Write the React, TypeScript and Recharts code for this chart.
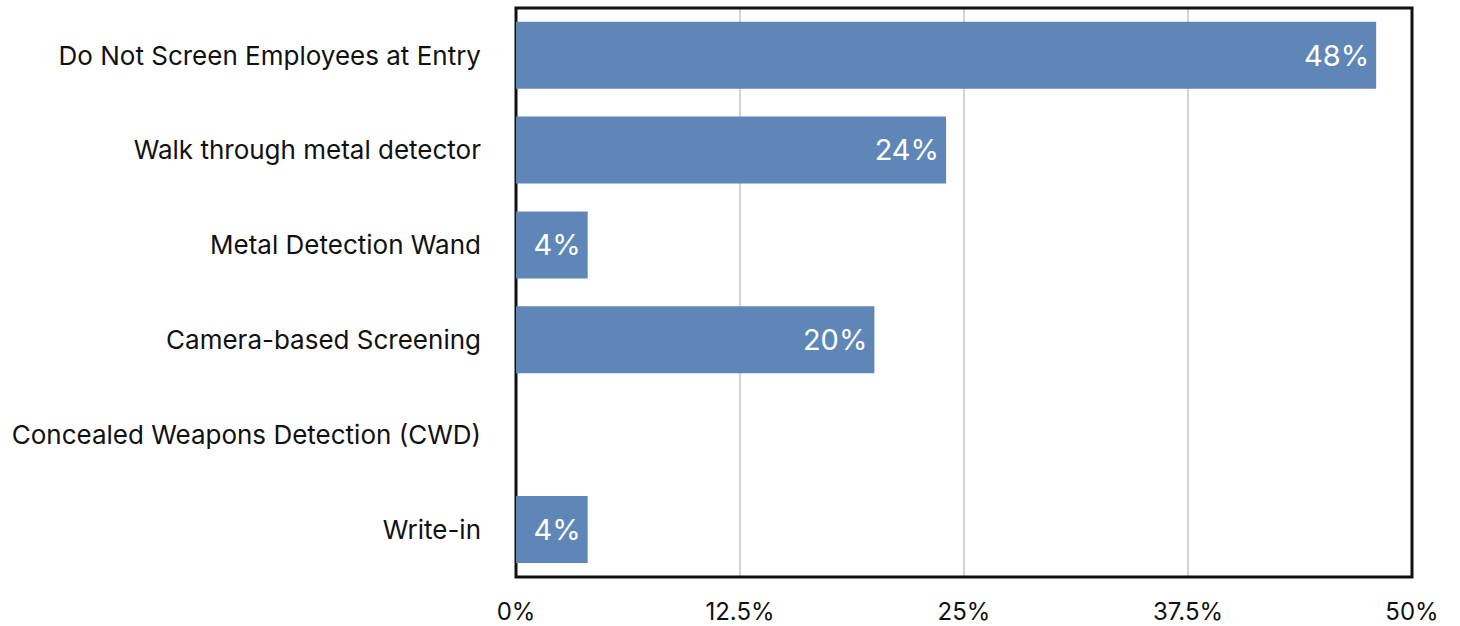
import { BarChart, Bar, XAxis, YAxis, CartesianGrid, ReferenceArea, LabelList } from 'recharts';

const categories = [
  'Do Not Screen Employees at Entry',
  'Walk through metal detector',
  'Metal Detection Wand',
  'Camera-based Screening',
  'Concealed Weapons Detection (CWD)',
  'Write-in',
];
const shares = [48, 24, 4, 20, 0, 4];
const xTicks = [0, 12.5, 25, 37.5, 50];

const data = categories.map((name, i) => ({ name, value: shares[i] }));

const FONT = 'Inter, "Noto Sans", sans-serif';

export default function App() {
  return (
    <div style={{ position: 'absolute', left: 0, top: 0, background: '#fff' }}>
      <BarChart
        width={1460}
        height={626}
        data={data}
        layout="vertical"
        barCategoryGap="14.5%"
        margin={{ top: 8, right: 48, bottom: 9, left: 0 }}
      >
        <CartesianGrid horizontal={false} stroke="#c4c4c4" strokeWidth={1.5} />
        <XAxis
          type="number"
          domain={[0, 50]}
          ticks={xTicks}
          tickFormatter={v => `${v}%`}
          height={40}
          tickSize={0}
          tickMargin={26}
          axisLine={false}
          tick={{ fontSize: 24, fill: '#111', fontFamily: FONT }}
        />
        <YAxis
          type="category"
          dataKey="name"
          width={516}
          tickSize={0}
          tickMargin={35}
          axisLine={false}
          tick={{ fontSize: 26, fill: '#111', fontFamily: FONT }}
        />
        <Bar dataKey="value" fill="#5e87b8" isAnimationActive={false}>
          <LabelList
            dataKey="value"
            position="insideRight"
            offset={7}
            formatter={(v: number) => (v > 0 ? `${v}%` : '')}
            style={{ fill: '#fff', fontSize: 29, fontFamily: FONT }}
          />
        </Bar>
        <ReferenceArea x1={0} x2={50} fill="none" fillOpacity={0} stroke="#111" strokeWidth={3} ifOverflow="visible" />
      </BarChart>
    </div>
  );
}
